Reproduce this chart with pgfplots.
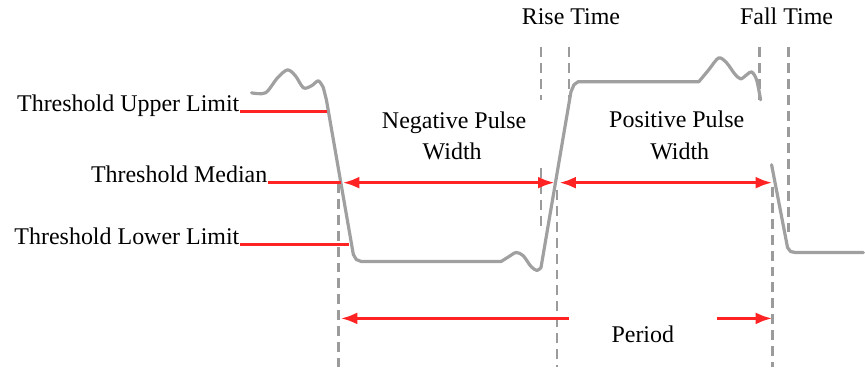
\documentclass[border=0pt]{standalone}
\usepackage{pgfplots}
\pgfplotsset{compat=1.18}
\usetikzlibrary{arrows.meta}
\usepackage{fontspec}
\setmainfont{Liberation Serif}
\definecolor{WAVE}{RGB}{160,160,160}
\definecolor{DASH}{RGB}{155,155,155}
\definecolor{THR}{RGB}{255,35,35}

\begin{document}
\fontsize{24}{28}\selectfont
\begin{tikzpicture}
\begin{axis}[
    width=865pt, height=374pt, scale only axis,
    xmin=0, xmax=865, ymin=0, ymax=374,
    y dir=reverse,
    hide axis, clip=false,
    every axis plot/.append style={line join=round, line cap=round},
]
% invisible frame for the bounding box
\addplot[draw=none] coordinates {(0,0) (865,374)};

% dashed guides
\pgfplotsset{guide/.style={DASH, line width=2.9pt, dash pattern=on 10pt off 6pt, line cap=butt}}
\addplot[guide] coordinates {(339,183) (339,368)};
\addplot[guide] coordinates {(558,190) (558,368)};
\addplot[guide] coordinates {(774,187) (774,368)};
\addplot[guide] coordinates {(542,47) (542,100)};
\addplot[guide] coordinates {(542,168) (542,230)};
\addplot[guide] coordinates {(570,47) (570,98)};
\addplot[guide] coordinates {(761,47) (761,100)};
\addplot[guide] coordinates {(790,47) (790,232)};

% waveform
\pgfplotsset{wave/.style={WAVE, line width=3.2pt}}
\addplot[wave, smooth, tension=0.5] coordinates {
    (252,93) (266,93) (278,78) (288,70) (296,76) (304,88) (312,86) (319,81) (324,88)};
\addplot[wave] coordinates {
    (324,88) (327,100) (354,255) (357,260) (362,262) (502,262)};
\addplot[wave, smooth, tension=0.5] coordinates {
    (502,262) (510,257) (517,253) (524,256) (532,267) (538,271) (542,268)};
\addplot[wave] coordinates {
    (542,268) (572,92) (575,85) (579,82) (700,82)};
\addplot[wave, smooth, tension=0.5] coordinates {
    (700,82) (710,70) (720,58) (728,63) (736,74) (742,79) (748,75) (753,72) (758,80) (762,100)};
\addplot[wave] coordinates {
    (773,165) (789,248) (792,252) (797,253) (865,253)};

% threshold lines
\pgfplotsset{thr/.style={THR, line width=2.8pt, line cap=butt}}
\addplot[thr] coordinates {(240,112) (328,112)};
\addplot[thr] coordinates {(268,183) (342,183)};
\addplot[thr] coordinates {(240,245) (350,245)};

% width and period arrows
\pgfplotsset{arr/.style={THR, line width=3.6pt, line cap=butt}}
\addplot[arr, {Latex[length=17pt,width=12pt]}-{Latex[length=17pt,width=12pt]}] coordinates {(343,183) (556,183)};
\addplot[arr, {Latex[length=17pt,width=12pt]}-{Latex[length=17pt,width=12pt]}] coordinates {(560,183) (774,183)};
\addplot[arr, {Latex[length=17pt,width=12pt]}-] coordinates {(341,319) (570,319)};
\addplot[arr, -{Latex[length=17pt,width=12pt]}] coordinates {(718,319) (774,319)};

% labels
\node[anchor=base east, inner sep=0pt] at (axis cs:240,112) {Threshold Upper Limit};
\node[anchor=base east, inner sep=0pt] at (axis cs:268,183) {Threshold Median};
\node[anchor=base east, inner sep=0pt] at (axis cs:240,245) {Threshold Lower Limit};
\node[anchor=base, inner sep=0pt] at (axis cs:572,25) {Rise Time};
\node[anchor=base, inner sep=0pt] at (axis cs:788,25) {Fall Time};
\node[anchor=base, inner sep=0pt] at (axis cs:455,129) {Negative Pulse};
\node[anchor=base, inner sep=0pt] at (axis cs:453,160) {Width};
\node[anchor=base, inner sep=0pt] at (axis cs:678,128) {Positive Pulse};
\node[anchor=base, inner sep=0pt] at (axis cs:681,160) {Width};
\node[anchor=base, inner sep=0pt] at (axis cs:644,343) {Period};
\end{axis}
\end{tikzpicture}
\end{document}
